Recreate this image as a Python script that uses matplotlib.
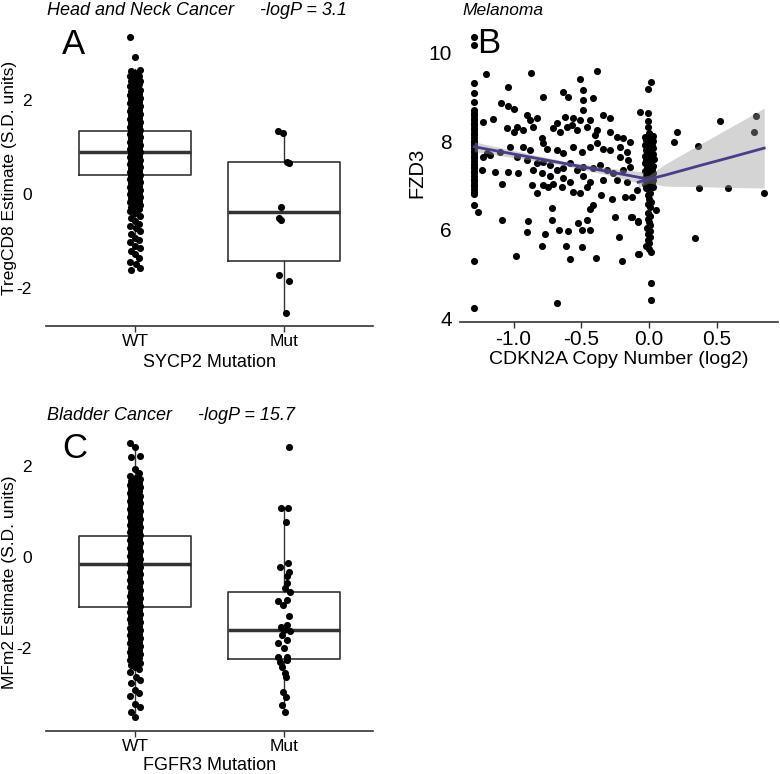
import numpy as np
import matplotlib.pyplot as plt

plt.rcParams['font.family'] = ['Liberation Sans', 'DejaVu Sans']
plt.rcParams['axes.unicode_minus'] = False

# ---------------- data ----------------
groups = ['WT', 'Mut']

# A: Head and Neck, TregCD8 estimate by SYCP2 mutation
a_wt = [3.33, 2.91, 2.63, 2.61, 2.58, 2.52, 2.5, 2.47, 2.41, 2.4, 2.36, 2.33, 2.29, 2.27,
        2.22, 2.2, 2.17, 2.13, 2.11, 2.08, 2.04, 2.02, 1.99, 1.95, 1.93, 1.9, 1.88, 1.84,
        1.81, 1.79, 1.76, 1.73, 1.7, 1.68, 1.65, 1.61, 1.6, 1.56, 1.53, 1.51, 1.48, 1.45,
        1.43, 1.4, 1.37, 1.35, 1.32, 1.29, 1.27, 1.24, 1.21, 1.19, 1.16, 1.13, 1.11, 1.08,
        1.05, 1.03, 1.0, 0.97, 0.95, 0.92, 0.89, 0.87, 0.84, 0.81, 0.79, 0.76, 0.73, 0.71,
        0.68, 0.65, 0.63, 0.6, 0.57, 0.55, 0.52, 0.49, 0.47, 0.44, 0.41, 0.39, 0.36, 0.33,
        0.31, 0.28, 0.25, 0.23, 0.2, 0.17, 0.15, 0.12, 0.09, 0.07, 0.04, 0.01, -0.01, -0.04,
        -0.07, -0.09, -0.12, -0.15, -0.18, -0.21, -0.24, -0.27, -0.3, -0.33, -0.37, -0.4,
        -0.46, -0.52, -0.58, -0.63, -0.68, -0.72, -0.79, -0.85, -0.93, -0.97, -1.02, -1.1,
        -1.14, -1.22, -1.27, -1.36, -1.45, -1.5, -1.58, -1.62]
a_mut = [1.33, 1.29, 0.67, 0.65, -0.28, -0.52, -0.55, -1.72, -1.85, -2.53]
a_mut_dx = [-0.04, -0.007, 0.02, 0.034, -0.02, -0.034, -0.02, -0.034, 0.034, 0.013]
# box stats: q1, median, q3, whisker low, whisker high
a_q1 = [0.40, -1.43]
a_med = [0.89, -0.38]
a_q3 = [1.35, 0.68]
a_wlo = [-1.0, -2.53]
a_whi = [2.65, 1.33]

# C: Bladder, MFm2 estimate by FGFR3 mutation
c_wt = [2.51, 2.42, 2.22, 2.2, 1.93, 1.85, 1.77,
        1.74, 1.71, 1.67, 1.65, 1.62, 1.58, 1.56, 1.53, 1.49, 1.47, 1.44, 1.41, 1.38, 1.35,
        1.32, 1.29, 1.27, 1.23, 1.21, 1.18, 1.14, 1.12, 1.09, 1.06, 1.03, 1.0, 0.97, 0.94,
        0.92, 0.88, 0.86, 0.83, 0.8, 0.77, 0.74, 0.71, 0.68, 0.66, 0.62, 0.6, 0.57, 0.54,
        0.51, 0.48, 0.45, 0.43, 0.39, 0.37, 0.34, 0.31, 0.28, 0.25, 0.22, 0.19, 0.17, 0.13,
        0.11, 0.08, 0.05, 0.02, -0.01, -0.04, -0.06, -0.1, -0.12, -0.15, -0.18, -0.21,
        -0.24, -0.27, -0.3, -0.32, -0.36, -0.38, -0.41, -0.44, -0.47, -0.5, -0.53, -0.56,
        -0.58, -0.62, -0.64, -0.67, -0.71, -0.73, -0.76, -0.79, -0.82, -0.85, -0.88, -0.91,
        -0.93, -0.97, -0.99, -1.02, -1.05, -1.08, -1.11, -1.14, -1.17, -1.2, -1.23, -1.25,
        -1.29, -1.31, -1.34, -1.37, -1.4, -1.43, -1.46, -1.49, -1.52, -1.55, -1.58, -1.61,
        -1.63, -1.67, -1.69, -1.72, -1.75, -1.78, -1.81, -1.84, -1.87, -1.9, -1.93, -1.96,
        -1.99, -2.02, -2.05, -2.08, -2.11, -2.14, -2.17, -2.2, -2.23, -2.26, -2.29,
        -2.33, -2.37, -2.42, -2.47, -2.53, -2.64, -2.71, -2.78, -2.92, -2.98, -3.06, -3.22,
        -3.3, -3.41, -3.52]
c_mut = [2.41, 1.07, 1.07, 0.78, -0.23, -0.14, -0.34, -0.41, -0.58, -0.69, -0.76, -0.96,
         -0.95, -1.05, -1.3, -1.53, -1.49, -1.6, -1.71, -1.62, -1.9, -1.82, -2.01, -2.19,
         -2.19, -2.3, -2.26, -2.41, -2.56, -2.63, -2.96, -3.07, -3.25, -3.4]
c_mut_dx = [0.034, -0.02, 0.027, 0.013, -0.027, 0.027, 0.034, 0.02, 0.02, 0.007, 0.04,
            -0.04, 0.02, -0.007, 0.034, -0.02, 0.02, 0.0, -0.013, 0.04, -0.04, 0.02, 0.0,
            -0.04, 0.02, -0.027, 0.02, -0.013, 0.007, 0.013, -0.007, 0.013, -0.013, 0.007]
c_q1 = [-1.10, -2.25]
c_med = [-0.15, -1.60]
c_q3 = [0.46, -0.77]
c_wlo = [-3.45, -3.42]
c_whi = [2.36, 1.08]

# B: Melanoma, FZD3 vs CDKN2A copy number
b_left_y = [10.34, 10.17, 9.3, 9.08, 8.89, 8.7, 8.64, 8.58, 8.53, 8.47, 8.41, 8.36, 8.3,
            8.24, 8.18, 8.13, 8.07, 8.01, 7.95, 7.9, 7.84, 7.78, 7.72, 7.67, 7.61, 7.55,
            7.49, 7.44, 7.38, 7.32, 7.27, 7.21, 7.15, 7.1, 7.04, 6.98, 6.92, 6.86, 6.8,
            6.56, 5.29, 4.23]
b_zero_y = [9.34, 9.17, 8.64, 8.46, 8.32, 8.17, 8.12, 8.1, 8.05, 8.03, 7.99, 7.97, 7.92,
            7.9, 7.86, 7.84, 7.8, 7.77, 7.73, 7.7, 7.67, 7.64, 7.6, 7.57, 7.53, 7.5, 7.47,
            7.44, 7.4, 7.37, 7.33, 7.3, 7.27, 7.24, 7.2, 7.17, 7.13, 7.1, 7.06, 7.03, 7.0,
            6.97, 6.93, 6.9, 6.83, 6.77, 6.7, 6.63, 6.57, 6.5, 6.37, 6.3, 6.23, 6.17, 6.1,
            6.03, 5.97, 5.9, 5.83, 5.77, 5.7, 5.63, 5.57, 5.5, 4.79, 4.41]
b_zero_x = [0.015, -0.005, -0.005, -0.005, -0.01, 0.0, 0.03, -0.03, 0.01, -0.02, 0.032,
            -0.01, 0.02, -0.032, 0.0, 0.03, -0.025, 0.012, -0.015, 0.028, -0.03, 0.005,
            0.034, -0.022, 0.018, -0.03, 0.0, 0.03, -0.015, 0.022, -0.03, 0.008, 0.032,
            -0.02, 0.015, -0.028, 0.03, -0.01, 0.02, -0.032, 0.01, 0.03, -0.02, 0.0,
            0.01, -0.01, 0.0, 0.015, -0.01, 0.005, -0.005, 0.01, -0.01, 0.0, 0.01, -0.015,
            0.005, -0.01, 0.01, -0.005, 0.0, -0.02, 0.0, 0.015, 0.015, 0.015]
b_sc_x = [-1.264, -1.205, -0.871, -0.386, -0.509, -1.038, -0.637, -0.595, -0.78, -0.49,
          -0.485, -0.41, -1.092, -1.038, -0.996, -1.149, -0.903, -0.878, -0.829, -0.681,
          -0.62, -0.558, -0.571, -0.509, -0.435, -0.485, -0.337, -0.288, -1.223, -1.05,
          -1.0, -0.977, -0.927, -0.854, -0.706, -0.657, -0.608, -0.534, -0.46, -0.386,
          -0.398, -0.288, -0.239, -0.189, -0.14, -0.792, -0.78, -0.755, -0.927, -0.878,
          -1.026, -1.1, -1.173, -1.223, -1.198, -0.681, -0.632, -0.558, -0.497, -0.435,
          -0.386, -0.337, -0.288, -0.214, -0.165, -0.153, -0.214, -0.977, -0.903, -0.829,
          -0.78, -0.731, -0.681, -0.632, -0.583, -0.534, -0.485, -0.41, -0.362, -0.312,
          -0.263, -0.189, -0.14, -1.235, -1.137, -1.038, -0.964, -0.854, -0.792, -0.731,
          -0.632, -0.583, -0.485, -0.435, -0.337, -0.239, -0.16, -1.087, -0.866, -0.78,
          -0.743, -0.706, -0.643, -0.558, -0.509, -0.46, -0.357, -0.829, -0.276, -0.177,
          -0.128, -0.091, -0.713, -0.435, -0.41, -1.087, -0.891, -0.718, -0.522, -0.46,
          -0.251, -0.128, -0.084, -0.898, -0.768, -0.664, -0.595, -0.497, -0.435, -0.219,
          -0.792, -0.613, -0.497, -0.982, -0.583, -0.394, -0.197, -0.079, -0.681,
          -0.064, 0.052, -0.074, -0.133, -0.081,
          0.185, 0.209, 0.364, 0.369, 0.339, 0.524, 0.585, 0.775, 0.787, 0.849]
b_sc_y = [6.4, 9.51, 9.53, 9.59, 9.39, 9.23, 9.11, 9.0, 8.99, 9.15, 8.93, 8.96, 8.85, 8.78,
          8.73, 8.49, 8.59, 8.47, 8.51, 8.41, 8.55, 8.51, 8.36, 8.47, 8.47, 8.7, 8.59, 8.51,
          8.44, 8.29, 8.21, 8.32, 8.25, 8.32, 8.29, 8.21, 8.32, 8.25, 8.32, 8.25, 8.14, 8.21,
          8.1, 8.06, 7.98, 8.06, 7.95, 7.83, 7.87, 7.8, 7.87, 7.76, 7.68, 7.65, 7.72, 7.8,
          7.72, 7.87, 7.76, 7.87, 7.95, 7.83, 7.8, 7.87, 7.76, 7.57, 7.65, 7.65, 7.57, 7.5,
          7.53, 7.46, 7.35, 7.38, 7.5, 7.35, 7.42, 7.38, 7.46, 7.35, 7.27, 7.35, 7.42, 7.35,
          7.31, 7.29, 7.27, 7.35, 7.27, 7.2, 7.16, 7.08, 7.2, 7.08, 7.12, 7.12, 7.08, 7.04,
          7.01, 7.01, 6.97, 7.04, 6.97, 6.86, 6.82, 6.97, 6.77, 6.82, 6.68, 6.74, 6.74, 6.89,
          6.48, 6.46, 6.56, 6.22, 6.2, 6.22, 6.16, 6.22, 6.29, 6.29, 6.19, 5.94, 5.89, 6.0,
          5.97, 5.99, 6.0, 5.84, 5.64, 5.64, 5.61, 5.4, 5.33, 5.37, 5.28, 5.45, 4.35,
          8.66, 6.44, 5.45, 6.29, 6.18,
          7.98, 8.21, 7.89, 6.95, 5.8, 8.45, 6.95, 8.21, 8.56, 6.83]
b_left_x = -1.289

# piecewise linear fits with 95% bands
fit1_x = [-1.29, -0.9, -0.6, -0.3, -0.04]
fit1_y = [7.87, 7.65, 7.48, 7.31, 7.16]
fit1_lo = [7.76, 7.58, 7.43, 7.23, 7.02]
fit1_hi = [7.98, 7.72, 7.53, 7.39, 7.30]
fit2_x = [-0.08, 0.0, 0.12, 0.38, 0.6, 0.85]
fit2_y = [7.07, 7.14, 7.23, 7.45, 7.63, 7.84]
fit2_lo = [6.96, 7.05, 6.98, 6.97, 6.95, 6.94]
fit2_hi = [7.18, 7.23, 7.48, 7.93, 8.31, 8.74]

# ---------------- drawing ----------------
W, H = 780, 774
fig = plt.figure(figsize=(7.8, 7.74), dpi=100)
edge = '#333333'
dot = 26

def rect(x0, y0, x1, y1):
    return [x0 / W, 1 - y1 / H, (x1 - x0) / W, (y1 - y0) / H]

def ftext(x, y, s, **kw):
    fig.text(x / W, 1 - y / H, s, va='baseline', **kw)

def style_axes(ax, tick_fs, ypad):
    for side in ['left', 'right', 'top']:
        ax.spines[side].set_visible(False)
    ax.spines['bottom'].set_color(edge)
    ax.spines['bottom'].set_linewidth(1.2)
    ax.tick_params(axis='y', length=0, pad=ypad, labelsize=tick_fs)
    ax.tick_params(axis='x', length=4, width=1.0, color=edge, pad=2, labelsize=tick_fs)
    ax.patch.set_alpha(0)

# horizontal spread of the WT columns
jit = [-0.035, 0.002, 0.034, -0.03, -0.003, 0.03, -0.034, 0.004, 0.035, -0.028, 0.0, 0.028]

def box_panel(ax, q1, med, q3, wlo, whi, wt, mut, mut_dx):
    stats = [dict(q1=q1[i], med=med[i], q3=q3[i], whislo=wlo[i], whishi=whi[i])
             for i in range(2)]
    ax.bxp(stats, positions=[1, 2], widths=0.75, showfliers=False, showcaps=False,
           boxprops=dict(color=edge, linewidth=1.2),
           whiskerprops=dict(color=edge, linewidth=1.0),
           medianprops=dict(color=edge, linewidth=2.5))
    wt = np.array(wt)
    ax.scatter(1 + np.resize(jit, len(wt)), wt, s=dot, color='black', lw=0, zorder=3)
    ax.scatter(2 + np.array(mut_dx), mut, s=dot, color='black', lw=0, zorder=3)
    ax.set_xticks([1, 2])
    ax.set_xticklabels(groups)
    ax.set_xlim(0.403, 2.597)
    ax.set_yticks([-2, 0, 2])

# panel A
axA = fig.add_axes(rect(46, 30, 373, 326))
box_panel(axA, a_q1, a_med, a_q3, a_wlo, a_whi, a_wt, a_mut, a_mut_dx)
axA.set_ylim(-2.809, 3.489)
style_axes(axA, 12.5, 10)
axA.set_xlabel('SYCP2 Mutation', fontsize=13, labelpad=3.5)
fig.text(10 / W, 1 - 178 / H, 'TregCD8 Estimate (S.D. units)', rotation=90,
         ha='center', va='center', fontsize=12.5)
ftext(47, 15, 'Head and Neck Cancer', style='italic', fontsize=13)
ftext(260, 15, '-logP = 3.1', style='italic', fontsize=13)
ftext(62, 54, 'A', fontsize=25)

# panel C
axC = fig.add_axes(rect(46, 430, 373, 731))
box_panel(axC, c_q1, c_med, c_q3, c_wlo, c_whi, c_wt, c_mut, c_mut_dx)
axC.set_ylim(-3.824, 2.791)
style_axes(axC, 12.5, 10)
axC.set_xlabel('FGFR3 Mutation', fontsize=13, labelpad=2)
fig.text(10 / W, 1 - 582 / H, 'MFm2 Estimate (S.D. units)', rotation=90,
         ha='center', va='center', fontsize=12.5)
ftext(47, 420, 'Bladder Cancer', style='italic', fontsize=13)
ftext(198, 420, '-logP = 15.7', style='italic', fontsize=13)
ftext(62, 458, 'C', fontsize=25)

# panel B
axB = fig.add_axes(rect(460, 30, 778, 322))
axB.scatter([b_left_x] * len(b_left_y), b_left_y, s=dot, color='black', lw=0, zorder=2)
axB.scatter(b_zero_x, b_zero_y, s=dot, color='black', lw=0, zorder=2)
axB.scatter(b_sc_x, b_sc_y, s=dot, color='black', lw=0, zorder=2)
for fx, fy, lo, hi in [(fit1_x, fit1_y, fit1_lo, fit1_hi), (fit2_x, fit2_y, fit2_lo, fit2_hi)]:
    axB.fill_between(fx, lo, hi, color='#999999', alpha=0.42, lw=0, zorder=3)
    axB.plot(fx, fy, color='#483d8b', lw=2.0, zorder=4)
axB.set_xlim(-1.395, 0.952)
axB.set_ylim(3.914, 10.506)
axB.set_xticks([-1.0, -0.5, 0.0, 0.5])
axB.set_xticklabels(['-1.0', '-0.5', '0.0', '0.5'])
axB.set_yticks([4, 6, 8, 10])
style_axes(axB, 15, 6)
axB.set_xlabel('CDKN2A Copy Number (log2)', fontsize=14, labelpad=1)
fig.text(417 / W, 1 - 173 / H, 'FZD3', rotation=90, ha='center', va='center', fontsize=14.5)
ftext(462, 15, 'Melanoma', style='italic', fontsize=12.5)
ftext(477, 53, 'B', fontsize=25)

fig.savefig('out.png', dpi=100)
